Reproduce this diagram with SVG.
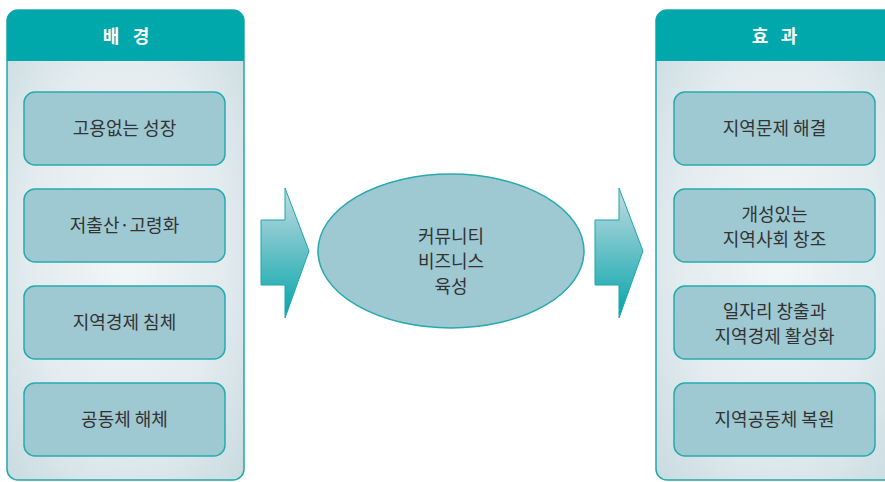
<svg xmlns="http://www.w3.org/2000/svg" width="885" height="482" viewBox="0 0 885 482">
<defs>
<radialGradient id="panelBg" cx="0.5" cy="0.5" r="0.7">
<stop offset="0" stop-color="#f2f6f7"/>
<stop offset="0.6" stop-color="#e2ebee"/>
<stop offset="1" stop-color="#c9dbe1"/>
</radialGradient>
<linearGradient id="arrowFill" x1="0" y1="0" x2="0" y2="1">
<stop offset="0" stop-color="#c4dbe2"/>
<stop offset="1" stop-color="#02a5aa"/>
</linearGradient>
<clipPath id="clipL"><rect x="7" y="10" width="237" height="470" rx="11"/></clipPath>
<clipPath id="clipR"><rect x="656" y="10" width="245" height="470" rx="11"/></clipPath>
</defs>
<style>
.panel{fill:url(#panelBg);stroke:#1fa8ac;stroke-width:1.5}
.head{fill:#00a7ab}
.htxt{font-family:"Noto Sans CJK KR","Noto Sans",sans-serif;font-size:18px;font-weight:bold;fill:#ffffff;text-anchor:middle}
.box{fill:#9ec8d2;stroke:#27aaad;stroke-width:1.5}
.txt{font-family:"Noto Sans CJK KR","Noto Sans",sans-serif;font-size:18px;fill:#333333;text-anchor:middle}
.arrow{fill:url(#arrowFill);stroke:#1aa7ab;stroke-width:1}
</style>
<rect width="885" height="482" fill="#ffffff"/>
<g id="panel-left">
<rect class="panel" x="7" y="10" width="237" height="470" rx="11"/>
<rect class="head" x="7" y="10" width="237" height="51" clip-path="url(#clipL)"/>
<rect class="head" x="7" y="40" width="237" height="21" rx="8"/>
<text class="htxt" y="43"><tspan x="111">배</tspan><tspan x="141">경</tspan></text>
</g>
<g id="panel-right">
<rect class="panel" x="656" y="10" width="245" height="470" rx="11"/>
<rect class="head" x="656" y="10" width="245" height="51" clip-path="url(#clipR)"/>
<rect class="head" x="656" y="40" width="245" height="21" rx="8"/>
<text class="htxt" y="43"><tspan x="760">효</tspan><tspan x="789">과</tspan></text>
</g>
<g id="bg1"><rect class="box" x="24" y="92" width="201" height="73" rx="11"/><text class="txt" x="124.5" y="135">고용없는 성장</text></g>
<g id="bg2"><rect class="box" x="24" y="189" width="201" height="73" rx="11"/><text class="txt" x="124.5" y="232">저출산·고령화</text></g>
<g id="bg3"><rect class="box" x="24" y="286" width="201" height="73" rx="11"/><text class="txt" x="124.5" y="329">지역경제 침체</text></g>
<g id="bg4"><rect class="box" x="24" y="383" width="201" height="73" rx="11"/><text class="txt" x="124.5" y="426">공동체 해체</text></g>
<g id="ef1"><rect class="box" x="674" y="92" width="201" height="73" rx="11"/><text class="txt" x="774.5" y="135">지역문제 해결</text></g>
<g id="ef2"><rect class="box" x="674" y="189" width="201" height="73" rx="11"/><text class="txt" x="774.5" y="221">개성있는</text><text class="txt" x="774.5" y="246">지역사회 창조</text></g>
<g id="ef3"><rect class="box" x="674" y="286" width="201" height="73" rx="11"/><text class="txt" x="774.5" y="318">일자리 창출과</text><text class="txt" x="774.5" y="343">지역경제 활성화</text></g>
<g id="ef4"><rect class="box" x="674" y="383" width="201" height="73" rx="11"/><text class="txt" x="774.5" y="426">지역공동체 복원</text></g>
<g id="center">
<ellipse class="box" cx="451" cy="251" rx="133" ry="77"/>
<text class="txt" x="451" y="243">커뮤니티</text>
<text class="txt" x="451" y="268">비즈니스</text>
<text class="txt" x="451" y="293">육성</text>
</g>
<g id="connectors">
<polygon class="arrow" points="261,220 285,220 285,188 309,251 285,318 285,285 261,285"/>
<polygon class="arrow" points="595,220 619,220 619,188 643,251 619,318 619,285 595,285"/>
</g>
</svg>
